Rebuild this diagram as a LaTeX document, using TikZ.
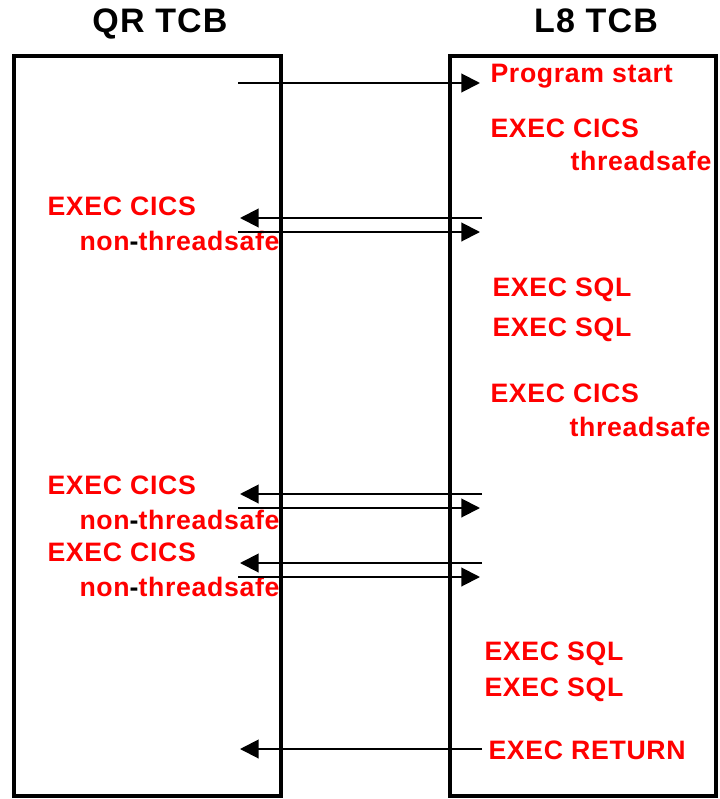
\documentclass[tikz,border=0pt]{standalone}
\usepackage{fontspec}
\setmainfont{Liberation Sans}
\usetikzlibrary{arrows.meta}
\tikzset{every picture/.style={line width=0.75pt}}
\tikzset{
tcbbox/.style={line width=2.6pt},
flow/.style={line width=1.5pt,-{Triangle[length=14pt,width=14pt]}},
title/.style={anchor=base,inner sep=0pt,font=\bfseries\fontsize{25.5}{30}\selectfont\addfontfeatures{LetterSpace=3.5}},
call/.style={anchor=base west,inner sep=0pt,text=red,font=\bfseries\fontsize{20}{24}\selectfont\addfontfeatures{LetterSpace=2.5}}}
\newcommand{\nonts}{non\textcolor{black}{-}threadsafe}

\begin{document}
\begin{tikzpicture}[x=0.75pt,y=0.75pt,yscale=-1,xscale=1]
\useasboundingbox (0,0) rectangle (720,799);

%Shape: Rectangle [id:qrbox]
\draw [tcbbox] (14,56) rectangle (281,796);
%Shape: Rectangle [id:l8box]
\draw [tcbbox] (450,56) rectangle (716,796);

% Text Node
\node [title] (qrtitle) at (160,33) {QR TCB};
% Text Node
\node [title] (l8title) at (596,33) {L8 TCB};

% Text Node
\node [call] (start) at (490,83) {Program start};
% Text Node
\node [call] (tsa) at (490,137) {EXEC CICS};
\node [call] (tsb) at (570,170) {threadsafe};
% Text Node
\node [call] (nta) at (47,215) {EXEC CICS};
\node [call] (ntb) at (79,250) {\nonts};
% Text Node
\node [call] (sqla) at (492,296) {EXEC SQL};
\node [call] (sqlb) at (492,336) {EXEC SQL};
% Text Node
\node [call] (tsc) at (490,402) {EXEC CICS};
\node [call] (tsd) at (569,436) {threadsafe};
% Text Node
\node [call] (ntc) at (47,494) {EXEC CICS};
\node [call] (ntd) at (79,529) {\nonts};
% Text Node
\node [call] (nte) at (47,561) {EXEC CICS};
\node [call] (ntf) at (79,596) {\nonts};
% Text Node
\node [call] (sqlc) at (484,660) {EXEC SQL};
\node [call] (sqld) at (484,696) {EXEC SQL};
% Text Node
\node [call] (ret) at (488,759) {EXEC RETURN};

% switch points on the QR and L8 side
\coordinate (q1) at (238,83);   \coordinate (l1) at (480,83);
\coordinate (q2) at (240,218);  \coordinate (l2) at (482,218);
\coordinate (q3) at (238,232);  \coordinate (l3) at (480,232);
\coordinate (q4) at (240,494);  \coordinate (l4) at (482,494);
\coordinate (q5) at (238,508);  \coordinate (l5) at (480,508);
\coordinate (q6) at (240,563);  \coordinate (l6) at (482,563);
\coordinate (q7) at (238,577);  \coordinate (l7) at (480,577);
\coordinate (q8) at (240,749);  \coordinate (l8) at (482,749);

%Straight Lines
\draw [flow] (q1) -- (l1);
\draw [flow] (l2) -- (q2);
\draw [flow] (q3) -- (l3);
\draw [flow] (l4) -- (q4);
\draw [flow] (q5) -- (l5);
\draw [flow] (l6) -- (q6);
\draw [flow] (q7) -- (l7);
\draw [flow] (l8) -- (q8);
\end{tikzpicture}
\end{document}
